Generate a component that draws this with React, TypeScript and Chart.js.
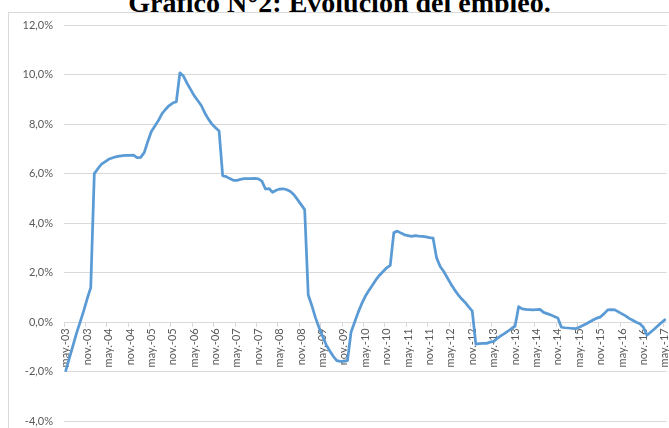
import React, { useEffect, useRef } from "react";
import { Chart, registerables } from "chart.js";

Chart.register(...registerables);

const TITLE = "Gráfico N°2: Evolución del empleo.";
const MONTH_ABBR = ["ene", "feb", "mar", "abr", "may", "jun", "jul", "ago", "sep", "oct", "nov", "dic"];
const START_YEAR = 2003;
const START_MONTH = 4; // mayo
const LABEL_EVERY = 6;

// Variación interanual del empleo (%), mensual desde may.-03 hasta may.-17
const employment = [
  -1.95, -1.45, -0.95, -0.45, 0.0, 0.45, 0.95, 1.4, 6.0, 6.2, 6.38, 6.48,
  6.58, 6.63, 6.68, 6.71, 6.73, 6.74, 6.74, 6.75, 6.65, 6.66, 6.85, 7.3,
  7.7, 7.92, 8.15, 8.42, 8.6, 8.75, 8.85, 8.9, 10.07, 9.94, 9.65, 9.4,
  9.15, 8.95, 8.75, 8.45, 8.2, 8.0, 7.85, 7.72, 5.92, 5.88, 5.8, 5.73,
  5.73, 5.77, 5.8, 5.8, 5.8, 5.81, 5.79, 5.7, 5.38, 5.4, 5.25, 5.33,
  5.38, 5.39, 5.35, 5.28, 5.15, 4.95, 4.75, 4.55, 1.1, 0.68, 0.2, -0.2,
  -0.55, -0.9, -1.15, -1.37, -1.55, -1.58, -1.58, -1.55, -0.4, 0.0, 0.4, 0.75,
  1.05, 1.28, 1.5, 1.72, 1.9, 2.05, 2.2, 2.3, 3.62, 3.68, 3.6, 3.53,
  3.5, 3.47, 3.5, 3.48, 3.47, 3.45, 3.42, 3.4, 2.6, 2.25, 2.05, 1.8,
  1.55, 1.32, 1.12, 0.95, 0.8, 0.62, 0.45, -0.88, -0.86, -0.85, -0.85, -0.8,
  -0.77, -0.65, -0.55, -0.46, -0.36, -0.25, -0.16, 0.63, 0.54, 0.52, 0.51, 0.5,
  0.51, 0.52, 0.4, 0.35, 0.3, 0.23, 0.17, -0.2, -0.22, -0.23, -0.25, -0.26,
  -0.2, -0.13, -0.06, 0.02, 0.1, 0.17, 0.22, 0.35, 0.5, 0.51, 0.5, 0.42,
  0.34, 0.26, 0.16, 0.08, 0.0, -0.06, -0.2, -0.52, -0.4, -0.28, -0.15, -0.02,
  0.1,
];

const Y_MIN = -4;
const Y_MAX = 12;
const Y_STEP = 2;

const categories = employment.map((_, i) => {
  const m = START_MONTH + i;
  const yr = START_YEAR + Math.floor(m / 12);
  return `${MONTH_ABBR[m % 12]}.-${String(yr % 100).padStart(2, "0")}`;
});

const GRID = "#d9d9d9";
const TEXT = "#595959";
const LINE = "#5B9BD5";

const CANVAS_W = 680;
const CANVAS_H = 439;

export default function App() {
  const ref = useRef<HTMLCanvasElement | null>(null);

  useEffect(() => {
    if (!ref.current) return;
    const chart = new Chart(ref.current, {
      type: "line",
      data: {
        labels: categories,
        datasets: [
          {
            data: employment,
            borderColor: LINE,
            borderWidth: 2.75,
            pointRadius: 0,
            tension: 0,
            fill: false,
            borderJoinStyle: "round",
            borderCapStyle: "round",
          },
        ],
      },
      options: {
        responsive: false,
        animation: false,
        devicePixelRatio: 1,
        layout: { padding: { left: 0, right: 0, top: 25, bottom: 8 } },
        plugins: {
          legend: { display: false },
          tooltip: { enabled: false },
          title: { display: false },
        },
        scales: {
          x: {
            type: "category",
            position: { y: 0 } as any,
            offset: true,
            grid: {
              offset: true,
              drawOnChartArea: false,
              drawTicks: true,
              tickLength: 4,
              lineWidth: 1,
              color: (ctx: any) => (ctx.index % LABEL_EVERY === 0 ? GRID : "rgba(0,0,0,0)"),
            },
            border: { display: true, color: GRID, width: 1 },
            ticks: {
              autoSkip: false,
              maxRotation: 90,
              minRotation: 90,
              padding: 2,
              color: TEXT,
              font: { family: "Lato", size: 11 },
              callback: (_v: any, i: number) => (i % LABEL_EVERY === 0 ? categories[i] : ""),
            },
          },
          y: {
            min: Y_MIN,
            max: Y_MAX,
            ticks: {
              stepSize: Y_STEP,
              padding: 11,
              color: TEXT,
              font: { family: "Lato", size: 11 },
              callback: (v: any) => Number(v).toFixed(1).replace(".", ",") + "%",
            },
            grid: { color: GRID, drawTicks: false, lineWidth: 1 },
            border: { display: false },
            afterFit: (s: any) => {
              s.width = 64;
            },
          },
        },
      },
    } as any);
    return () => chart.destroy();
  }, []);

  return (
    <div
      style={{
        position: "fixed",
        left: 0,
        top: 0,
        width: 669,
        height: 428,
        overflow: "hidden",
        background: "#fff",
      }}
    >
      <div
        style={{
          position: "absolute",
          left: 0,
          top: -11,
          width: 679,
          textAlign: "center",
          fontFamily: "'Liberation Serif', 'Times New Roman', serif",
          fontWeight: "bold",
          fontSize: 28,
          lineHeight: "28px",
          whiteSpace: "nowrap",
          color: "#000",
        }}
      >
        {TITLE}
      </div>
      <div
        style={{
          position: "absolute",
          left: 8,
          top: 12,
          width: 700,
          height: 500,
          border: `1px solid ${GRID}`,
          background: "#fff",
        }}
      />
      <canvas
        ref={ref}
        width={CANVAS_W}
        height={CANVAS_H}
        style={{ position: "absolute", left: 0, top: 0, width: CANVAS_W, height: CANVAS_H }}
      />
    </div>
  );
}
